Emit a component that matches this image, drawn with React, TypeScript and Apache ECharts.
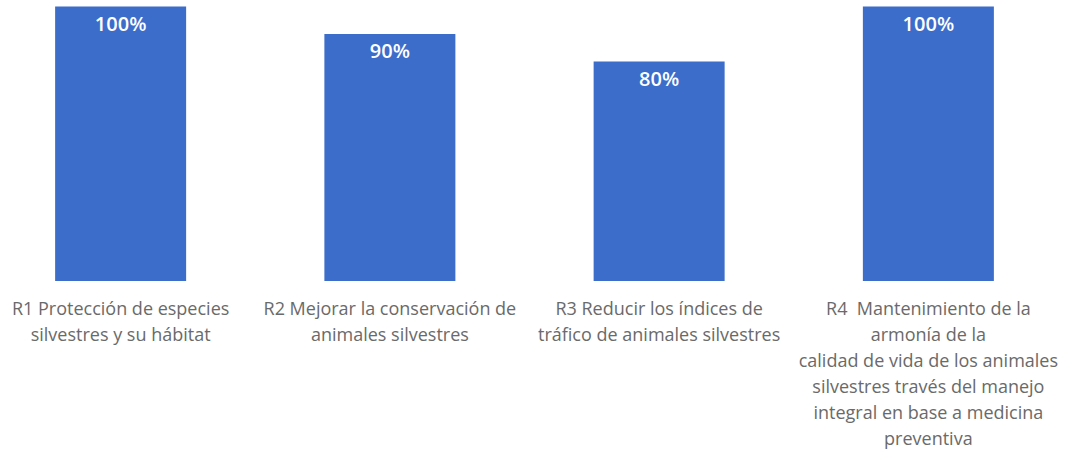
import React, { useEffect, useRef } from "react";
import * as echarts from "echarts";

const categories: string[] = [
  "R1 Protección de especies\nsilvestres y su hábitat",
  "R2 Mejorar la conservación de\nanimales silvestres",
  "R3 Reducir los índices de\ntráfico de animales silvestres",
  "R4  Mantenimiento de la\narmonía de la\ncalidad de vida de los animales\nsilvestres través del manejo\nintegral en base a medicina\npreventiva",
];
const values: number[] = [100, 90, 80, 100];

export default function App() {
  const ref = useRef<HTMLDivElement>(null);
  useEffect(() => {
    if (!ref.current) return;
    const chart = echarts.init(ref.current, undefined, { renderer: "svg" });
    chart.setOption({
      animation: false,
      backgroundColor: "#ffffff",
      grid: {
        left: -14,
        top: 6.5,
        width: 1077,
        height: 274.5,
        containLabel: false,
        outerBoundsMode: "none",
      },
      xAxis: {
        type: "category",
        data: categories,
        axisLine: { show: false },
        axisTick: { show: false },
        axisLabel: {
          interval: 0,
          margin: 14,
          color: "#6a6a6a",
          fontFamily: "'Open Sans', Lato, sans-serif",
          fontSize: 18,
          lineHeight: 26,
          align: "center",
        },
      },
      yAxis: {
        type: "value",
        min: 0,
        max: 100,
        show: false,
        splitLine: { show: false },
      },
      series: [
        {
          type: "bar",
          data: values,
          barWidth: 131,
          itemStyle: { color: "#3c6dcb" },
          label: {
            show: true,
            position: "insideTop",
            distance: 7,
            color: "#ffffff",
            fontWeight: 600,
            fontSize: 20,
            fontFamily: "'Open Sans', Lato, sans-serif",
            formatter: (p: any) => p.value + "%",
          },
        },
      ],
    });
    return () => chart.dispose();
  }, []);
  return (
    <div
      ref={ref}
      style={{ position: "fixed", left: 0, top: 0, width: 1082, height: 449 }}
    />
  );
}
